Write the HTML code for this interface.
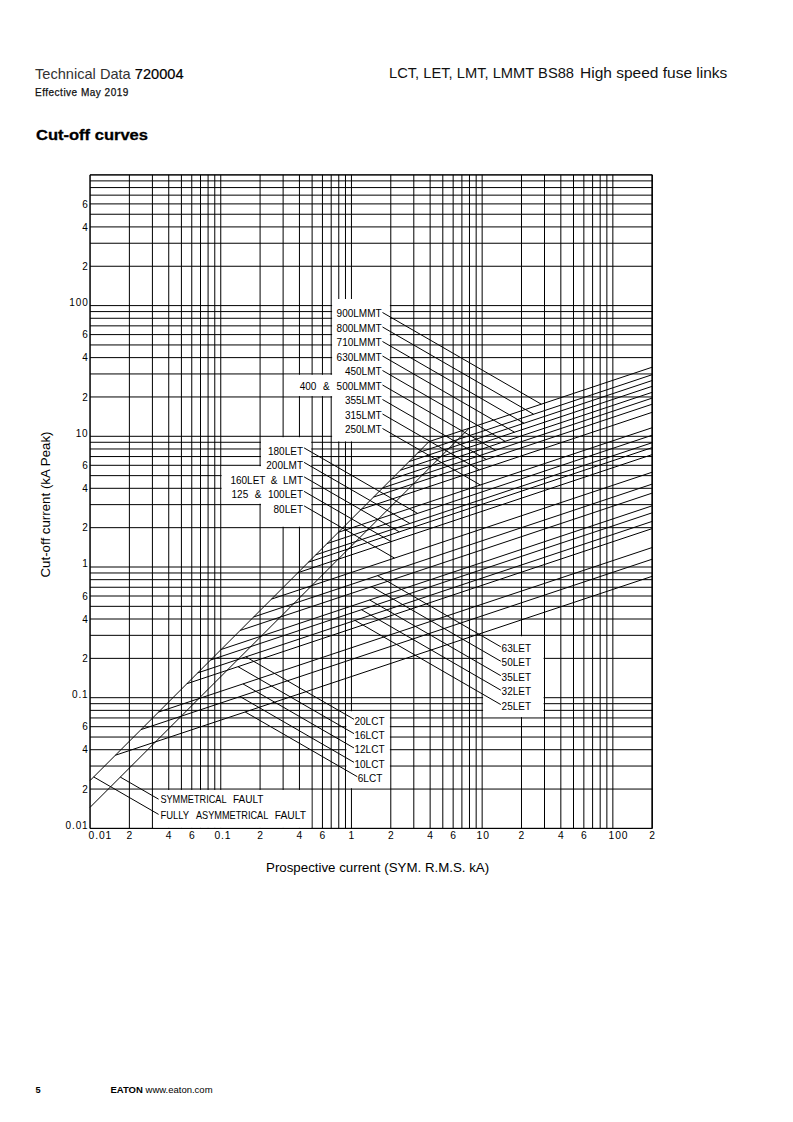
<!DOCTYPE html>
<html><head><meta charset="utf-8"><style>
html,body{margin:0;padding:0;background:#fff;}
body{width:793px;height:1122px;position:relative;overflow:hidden;font-family:"Liberation Sans",sans-serif;color:#000;}
.t{position:absolute;white-space:nowrap;line-height:1;}
svg{position:absolute;left:0;top:0;}
svg text{font-family:"Liberation Sans",sans-serif;fill:#000;}
</style></head><body>
<div class="t" id="h1" style="left:35px;top:66.5px;font-size:14.6px;color:#222"><span style="color:#333">Technical Data</span> <span style="color:#000;-webkit-text-stroke:0.2px #000">720004</span></div>
<div class="t" id="h2" style="left:35px;top:88.2px;font-size:10px;color:#111;letter-spacing:0.5px;-webkit-text-stroke:0.25px #111">Effective May 2019</div>
<div class="t" id="h3" style="left:389px;top:65.7px;font-size:14.7px;color:#111">LCT, LET, LMT, LMMT BS88</div>
<div class="t" id="h3b" style="left:580px;top:65.2px;font-size:15.5px;color:#111">High speed fuse links</div>
<div class="t" id="h4" style="left:35.5px;top:127.5px;font-size:14px;font-weight:bold;transform:scaleX(1.18);transform-origin:0 0;-webkit-text-stroke:0.3px #000">Cut-off curves</div>
<div class="t" id="f1" style="left:35.5px;top:1085.8px;font-size:9.2px;font-weight:bold">5</div>
<div class="t" id="f2" style="left:110.5px;top:1085.2px;font-size:9.5px;"><b>EATON</b> www.eaton.com</div>
<svg width="793" height="1122" viewBox="0 0 793 1122">
<path d="M90.05 174.90V828.40M129.39 174.90V828.40M152.41 174.90V828.40M168.74 174.90V828.40M181.41 174.90V828.40M191.75 174.90V828.40M200.50 174.90V828.40M208.08 174.90V828.40M214.77 174.90V828.40M220.75 174.90V828.40M260.09 174.90V828.40M283.11 174.90V828.40M299.44 174.90V828.40M312.11 174.90V828.40M322.45 174.90V828.40M331.20 174.90V828.40M338.78 174.90V828.40M345.47 174.90V828.40M351.45 174.90V828.40M390.79 174.90V828.40M413.81 174.90V828.40M430.14 174.90V828.40M442.81 174.90V828.40M453.15 174.90V828.40M461.90 174.90V828.40M469.48 174.90V828.40M476.17 174.90V828.40M482.15 174.90V828.40M521.49 174.90V828.40M544.51 174.90V828.40M560.84 174.90V828.40M573.51 174.90V828.40M583.85 174.90V828.40M592.60 174.90V828.40M600.18 174.90V828.40M606.87 174.90V828.40M612.85 174.90V828.40M652.19 174.90V828.40M652.19 174.90V828.40M90.05 828.40H652.19M90.05 789.06H652.19M90.05 766.04H652.19M90.05 749.71H652.19M90.05 737.04H652.19M90.05 726.70H652.19M90.05 717.95H652.19M90.05 710.37H652.19M90.05 703.68H652.19M90.05 697.70H652.19M90.05 658.36H652.19M90.05 635.34H652.19M90.05 619.01H652.19M90.05 606.34H652.19M90.05 596.00H652.19M90.05 587.25H652.19M90.05 579.67H652.19M90.05 572.98H652.19M90.05 567.00H652.19M90.05 527.66H652.19M90.05 504.64H652.19M90.05 488.31H652.19M90.05 475.64H652.19M90.05 465.30H652.19M90.05 456.55H652.19M90.05 448.97H652.19M90.05 442.28H652.19M90.05 436.30H652.19M90.05 396.96H652.19M90.05 373.94H652.19M90.05 357.61H652.19M90.05 344.94H652.19M90.05 334.60H652.19M90.05 325.85H652.19M90.05 318.27H652.19M90.05 311.58H652.19M90.05 305.60H652.19M90.05 266.26H652.19M90.05 243.24H652.19M90.05 226.91H652.19M90.05 214.24H652.19M90.05 203.90H652.19M90.05 195.15H652.19M90.05 187.57H652.19M90.05 180.88H652.19M90.05 174.90H652.19" stroke="#000" stroke-width="1.0" fill="none"/>
<rect x="332.10" y="299.00" width="57.79" height="142.38" fill="#fff"/>
<rect x="284.01" y="374.84" width="49.09" height="21.22" fill="#fff"/>
<rect x="260.99" y="437.20" width="50.21" height="29.00" fill="#fff"/>
<rect x="221.65" y="466.20" width="89.56" height="37.54" fill="#fff"/>
<rect x="260.99" y="503.24" width="50.21" height="23.52" fill="#fff"/>
<rect x="483.05" y="636.24" width="60.56" height="80.81" fill="#fff"/>
<rect x="346.37" y="711.27" width="43.53" height="76.89" fill="#fff"/>
<rect x="153.31" y="789.96" width="157.90" height="37.94" fill="#fff"/>
<path d="M90.05 174.90V828.40H652.19V174.90Z" stroke="#000" stroke-width="1.0" fill="none"/>
<path d="M429.00 441.60L652.19 367.20M417.75 452.85L652.19 374.70M409.05 461.55L652.19 380.50M400.35 470.25L652.19 386.30M391.35 479.25L652.19 392.30M382.65 487.95L652.19 398.10M373.50 497.10L652.19 404.20M361.35 509.25L652.19 412.30M338.25 532.35L652.19 427.70M327.00 543.60L652.19 435.20M315.75 554.85L652.19 442.70M308.40 562.20L652.19 447.60M297.90 572.70L652.19 454.60M271.50 599.10L652.19 472.20M253.65 616.95L652.19 484.10M240.15 630.45L652.19 493.10M221.10 649.50L652.19 505.80M210.60 660.00L652.19 512.80M197.70 672.90L652.19 521.40M186.90 683.70L652.19 528.60M158.55 712.05L652.19 547.50M141.00 729.60L652.19 559.20M115.35 755.25L652.19 576.30M90.05 780.55L429.00 441.60M90.05 807.35L469.20 428.20M382.50 312.50L541.28 404.17M382.50 327.00L533.59 414.23M382.50 341.50L524.04 423.22M382.50 356.00L514.49 432.20M382.50 370.50L505.15 441.31M382.50 385.00L495.60 450.30M382.50 399.50L486.38 459.47M382.50 414.00L479.35 469.92M382.50 428.50L480.34 484.99M304.10 447.90L417.57 513.41M304.10 462.40L409.88 523.47M304.10 476.90L399.34 531.89M304.10 491.40L391.10 541.63M304.10 505.90L394.51 558.10M500.80 646.80L377.56 575.65M500.80 661.25L371.57 586.64M500.80 675.70L369.65 599.98M500.80 690.15L361.47 609.71M500.80 704.60L355.05 620.45M354.00 719.30L245.84 656.85M354.00 733.65L237.99 666.67M354.00 748.00L242.98 683.90M354.00 762.35L240.07 696.57M357.30 776.70L245.18 711.97M158.60 799.20L120.31 777.09M158.60 814.40L93.68 776.92" stroke="#000" stroke-width="1.0" fill="none"/>
<g font-size="9.8" letter-spacing="1.2"><text x="88.6" y="828.70" text-anchor="end" font-size="10" letter-spacing="0.9">0.01</text><text x="88.6" y="698.00" text-anchor="end" font-size="10" letter-spacing="0.9">0.1</text><text x="88.6" y="567.30" text-anchor="end" font-size="10" letter-spacing="0.9">1</text><text x="88.6" y="436.60" text-anchor="end" font-size="10" letter-spacing="0.9">10</text><text x="88.6" y="305.90" text-anchor="end" font-size="10" letter-spacing="0.9">100</text><text x="88.6" y="792.66" text-anchor="end" font-size="10" letter-spacing="0.9">2</text><text x="88.6" y="753.31" text-anchor="end" font-size="10" letter-spacing="0.9">4</text><text x="88.6" y="730.30" text-anchor="end" font-size="10" letter-spacing="0.9">6</text><text x="88.6" y="661.96" text-anchor="end" font-size="10" letter-spacing="0.9">2</text><text x="88.6" y="622.61" text-anchor="end" font-size="10" letter-spacing="0.9">4</text><text x="88.6" y="599.60" text-anchor="end" font-size="10" letter-spacing="0.9">6</text><text x="88.6" y="531.26" text-anchor="end" font-size="10" letter-spacing="0.9">2</text><text x="88.6" y="491.91" text-anchor="end" font-size="10" letter-spacing="0.9">4</text><text x="88.6" y="468.90" text-anchor="end" font-size="10" letter-spacing="0.9">6</text><text x="88.6" y="400.56" text-anchor="end" font-size="10" letter-spacing="0.9">2</text><text x="88.6" y="361.21" text-anchor="end" font-size="10" letter-spacing="0.9">4</text><text x="88.6" y="338.20" text-anchor="end" font-size="10" letter-spacing="0.9">6</text><text x="88.6" y="269.86" text-anchor="end" font-size="10" letter-spacing="0.9">2</text><text x="88.6" y="230.51" text-anchor="end" font-size="10" letter-spacing="0.9">4</text><text x="88.6" y="207.50" text-anchor="end" font-size="10" letter-spacing="0.9">6</text><text x="100.35" y="838.8" text-anchor="middle" font-size="10.3" letter-spacing="0.9">0.01</text><text x="222.95" y="838.8" text-anchor="middle" font-size="10.3" letter-spacing="0.9">0.1</text><text x="129.84" y="838.8" text-anchor="middle" font-size="10.3" letter-spacing="0.9">2</text><text x="169.19" y="838.8" text-anchor="middle" font-size="10.3" letter-spacing="0.9">4</text><text x="192.20" y="838.8" text-anchor="middle" font-size="10.3" letter-spacing="0.9">6</text><text x="260.54" y="838.8" text-anchor="middle" font-size="10.3" letter-spacing="0.9">2</text><text x="299.89" y="838.8" text-anchor="middle" font-size="10.3" letter-spacing="0.9">4</text><text x="322.90" y="838.8" text-anchor="middle" font-size="10.3" letter-spacing="0.9">6</text><text x="391.24" y="838.8" text-anchor="middle" font-size="10.3" letter-spacing="0.9">2</text><text x="430.59" y="838.8" text-anchor="middle" font-size="10.3" letter-spacing="0.9">4</text><text x="453.60" y="838.8" text-anchor="middle" font-size="10.3" letter-spacing="0.9">6</text><text x="521.94" y="838.8" text-anchor="middle" font-size="10.3" letter-spacing="0.9">2</text><text x="561.29" y="838.8" text-anchor="middle" font-size="10.3" letter-spacing="0.9">4</text><text x="584.30" y="838.8" text-anchor="middle" font-size="10.3" letter-spacing="0.9">6</text><text x="652.64" y="838.8" text-anchor="middle" font-size="10.3" letter-spacing="0.9">2</text><text x="351.90" y="838.8" text-anchor="middle" font-size="10.3" letter-spacing="0.9">1</text><text x="483.15" y="838.8" text-anchor="middle" font-size="10.3" letter-spacing="0.9">10</text><text x="618.45" y="838.8" text-anchor="middle" font-size="10.3" letter-spacing="0.9">100</text></g>
<g><text x="381.60" y="317.10" font-size="10" text-anchor="end">900LMMT</text><text x="381.60" y="331.60" font-size="10" text-anchor="end">800LMMT</text><text x="381.60" y="346.10" font-size="10" text-anchor="end">710LMMT</text><text x="381.60" y="360.60" font-size="10" text-anchor="end">630LMMT</text><text x="381.60" y="375.10" font-size="10" text-anchor="end">450LMT</text><text x="381.60" y="389.60" font-size="10" text-anchor="end" word-spacing="4">400 &amp; 500LMMT</text><text x="381.60" y="404.10" font-size="10" text-anchor="end">355LMT</text><text x="381.60" y="418.60" font-size="10" text-anchor="end">315LMT</text><text x="381.60" y="433.10" font-size="10" text-anchor="end">250LMT</text><text x="303.00" y="454.50" font-size="10" text-anchor="end">180LET</text><text x="303.00" y="469.00" font-size="10" text-anchor="end">200LMT</text><text x="303.00" y="483.50" font-size="10" text-anchor="end" word-spacing="2.75">160LET &amp; LMT</text><text x="303.00" y="498.00" font-size="10" text-anchor="end" word-spacing="3.75">125 &amp; 100LET</text><text x="303.00" y="512.50" font-size="10" text-anchor="end">80LET</text><text x="501.60" y="651.80" font-size="10" text-anchor="start">63LET</text><text x="501.60" y="666.25" font-size="10" text-anchor="start">50LET</text><text x="501.60" y="680.70" font-size="10" text-anchor="start">35LET</text><text x="501.60" y="695.15" font-size="10" text-anchor="start">32LET</text><text x="501.60" y="709.60" font-size="10" text-anchor="start">25LET</text><text x="354.50" y="724.50" font-size="10" text-anchor="start">20LCT</text><text x="354.50" y="738.85" font-size="10" text-anchor="start">16LCT</text><text x="354.50" y="753.20" font-size="10" text-anchor="start">12LCT</text><text x="354.50" y="767.55" font-size="10" text-anchor="start">10LCT</text><text x="357.80" y="781.90" font-size="10" text-anchor="start">6LCT</text><text x="160.40" y="802.90" font-size="10.4" text-anchor="start" textLength="66.1" lengthAdjust="spacingAndGlyphs">SYMMETRICAL</text><text x="232.90" y="802.90" font-size="10.4" text-anchor="start" textLength="30.5" lengthAdjust="spacingAndGlyphs">FAULT</text><text x="160.40" y="818.80" font-size="10.4" text-anchor="start" textLength="28.7" lengthAdjust="spacingAndGlyphs">FULLY</text><text x="196.00" y="818.80" font-size="10.4" text-anchor="start" textLength="72.3" lengthAdjust="spacingAndGlyphs">ASYMMETRICAL</text><text x="274.70" y="818.80" font-size="10.4" text-anchor="start" textLength="31.3" lengthAdjust="spacingAndGlyphs">FAULT</text></g>
<text id="xl" x="377.6" y="871.8" font-size="13.3" text-anchor="middle">Prospective current (SYM. R.M.S. kA)</text>
<text id="yl" transform="translate(50.4 504.5) rotate(-90)" font-size="13.3" text-anchor="middle">Cut-off current (kA Peak)</text>
</svg>
</body></html>
